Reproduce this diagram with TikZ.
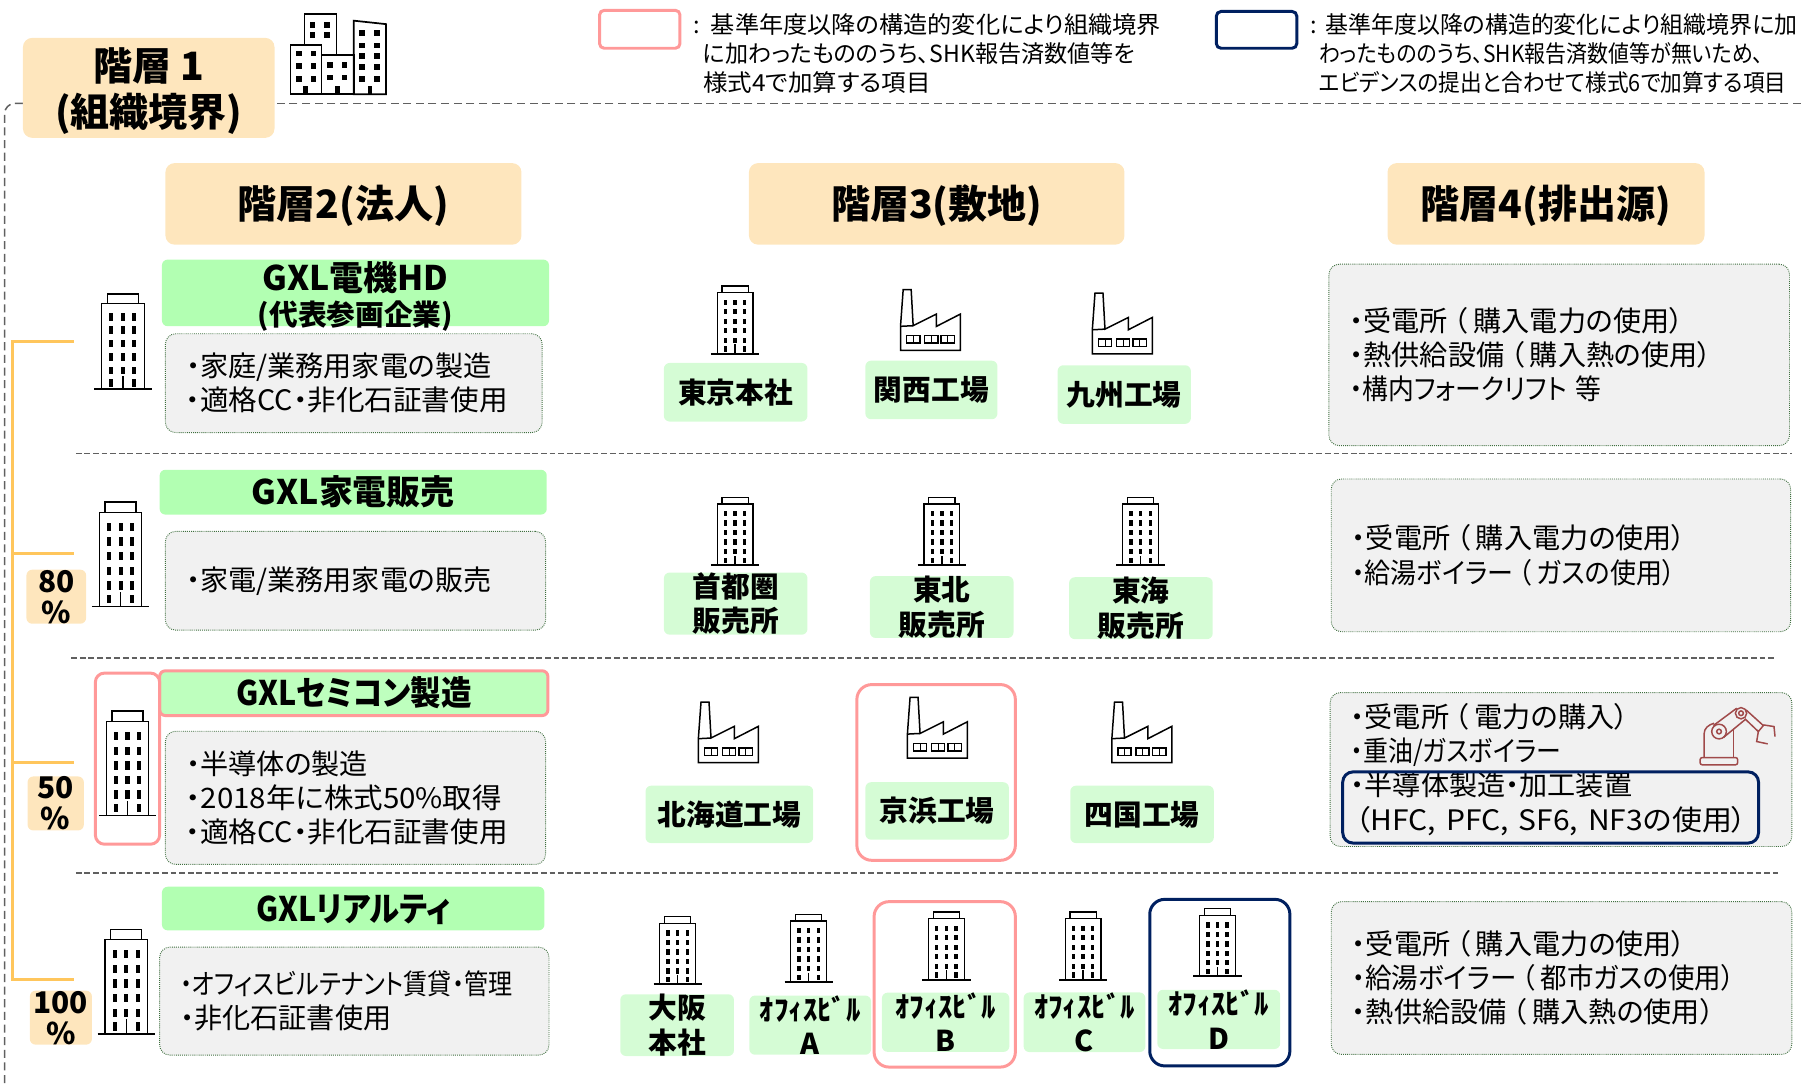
\documentclass[tikz,border=0pt]{standalone}
\usepackage{fontspec}
\setmainfont{Noto Sans CJK JP}[RawFeature=+palt]
\usepackage{graphicx}
\usepackage{xcolor}
\usepackage{tikz}
\usetikzlibrary{positioning}

\definecolor{peach}{HTML}{FEE6BD}
\definecolor{firmgreen}{HTML}{B2FFB2}
\definecolor{sitegreen}{HTML}{D5FCD5}
\definecolor{notegray}{HTML}{F1F1F1}
\definecolor{notegreen}{HTML}{3F6F3F}
\definecolor{addpink}{HTML}{FF9999}
\definecolor{addnavy}{HTML}{002060}
\definecolor{treeorange}{HTML}{FFC65C}
\definecolor{rulegray}{HTML}{606060}
\definecolor{robotred}{HTML}{A04A4A}

\newcommand{\fitline}[2]{\resizebox{#1}{\height}{#2}}
\newcommand{\kakko}[1]{\hspace{5pt}（\hspace{5pt}#1）\hspace{5pt}}

\tikzset{
	levelbox/.style={fill=peach, rounded corners=8pt, inner sep=0pt, align=center, text height=30pt, text depth=4pt, font=\fontsize{34}{40}\selectfont\bfseries},
	leveltext/.style={inner sep=0pt, align=center, font=\fontsize{34}{40}\selectfont\bfseries},
	firmbox/.style={fill=firmgreen, rounded corners=5pt, inner sep=0pt, align=center, text height=24pt, text depth=2pt, font=\fontsize{29.5}{32}\selectfont\bfseries},
	firmtext/.style={inner sep=0pt, align=center, font=\fontsize{29.5}{30}\selectfont\bfseries},
	sitetag/.style={fill=sitegreen, rounded corners=5pt, inner sep=0pt, align=center, font=\fontsize{25}{30}\selectfont\bfseries},
	pctag/.style={fill=peach, rounded corners=5pt, inner sep=0pt, align=center, minimum width=52pt, minimum height=47pt, font=\fontsize{26}{27}\selectfont\bfseries},
	notebox/.style={fill=notegray, draw=notegreen, densely dotted, line width=0.8pt, rounded corners=9pt, inner xsep=18pt, inner ysep=0pt, align=left, font=\fontsize{24.5}{29.7}\selectfont},
	pinkframe/.style={draw=addpink, line width=2.6pt, rounded corners=13pt, inner sep=0pt},
	navyframe/.style={draw=addnavy, line width=2.6pt, rounded corners=13pt, inner sep=0pt},
	legendtext/.style={inner sep=0pt, align=left, font=\fontsize{20.5}{25.5}\selectfont},
	rowrule/.style={draw=rulegray, line width=1.2pt, dash pattern=on 5pt off 2.5pt},
	framerule/.style={draw=rulegray, line width=1.3pt, dash pattern=on 7pt off 4pt},
	treeline/.style={draw=treeorange, line width=2.8pt},
	bigtower/.style={xscale=.5, yscale=.83},
	tallertower/.style={xscale=.5, yscale=.91},
	sitetower/.style={xscale=.42, yscale=.59},
	pics/tower/.style={code={
		\draw[line width=1.6pt] (-50,0) -- (50,0);
		\draw[line width=1.1pt] (-37,0) -- (-37,-90) -- (37,-90) -- (37,0);
		\draw[line width=1.1pt] (-27,-90) -- (-27,-100) -- (27,-100) -- (27,-90);
		\draw[line width=1.3pt] (0,0) -- (0,-14);
		\foreach \c in {-20,0,20}
			\foreach \r in {-80,-66,-52,-38,-24}
				\fill (\c-3.5,\r) rectangle (\c+3.5,\r+8);
		\fill (-23.5,-11) rectangle (-16.5,-3);
		\fill (16.5,-11) rectangle (23.5,-3);
	}},
	pics/factory/.style={code={
		\draw[line width=1.3pt] (0,0) -- (0,-72) -- (8,-182) -- (32,-182) -- (38,-74) -- (108,-109) -- (108,-72) -- (180,-109) -- (180,0) -- cycle;
		\draw[line width=1.3pt] (0,-72) -- (38,-74);
		\foreach \w in {18,72,122}{
			\draw[line width=1.3pt] (\w,-44) rectangle (\w+40,-22);
			\draw[line width=.8pt] (\w+20,-44) -- (\w+20,-22);
		}
	}},
	pics/robot/.style={code={
		\begin{scope}[draw=robotred, line width=1.3pt]
			\draw[rounded corners=2pt] (30,210) rectangle (143,188);
			\draw (42,188) -- (42,118) .. controls (42,100) and (55,90) .. (72,85);
			\draw (130,188) -- (130,105);
			\draw (70,92) -- (140,40);
			\draw (100,128) -- (168,72);
			\draw (87,110) circle (22);
			\draw (87,110) circle (7);
			\draw (153,55) circle (17);
			\draw (153,55) circle (7);
			\draw (168,45) -- (220,92) -- (205,110) -- (165,72);
			\draw (220,90) -- (252,95) -- (255,125);
			\draw (205,110) -- (200,140) -- (233,147);
		\end{scope}
	}},
}

\begin{document}
\begin{tikzpicture}[x=1pt, y=-1pt]
	\useasboundingbox (0,0) rectangle (1568,945.5);

	% outer boundary and row rules
	\draw[framerule] (1568,90) -- (20,90);
	\draw[framerule, rounded corners=9pt] (20,90) -- (4,90) -- (4,945);
	\draw[rowrule] (66,395) -- (1560,395);
	\draw[rowrule] (62,573) -- (1545,573);
	\draw[rowrule] (66,760) -- (1548,760);

	% ownership tree
	\coordinate (trunk) at (11,297);
	\coordinate (own1) at (64,297);
	\coordinate (own2) at (64,482);
	\coordinate (own3) at (64,664);
	\coordinate (own4) at (64,853);
	\draw[treeline] (own1) -- (trunk) -- (trunk |- own4) -- (own4);
	\draw[treeline] (own2) -- (trunk |- own2);
	\draw[treeline] (own3) -- (trunk |- own3);

	% headers
	\node[fill=peach, rounded corners=8pt, inner sep=0pt, minimum width=219pt, minimum height=87pt](lvl1) at (129.5,76.5){};
	\node[leveltext](lvl1text) at (129.5,79.5){階層 1\\(組織境界)};
	\node[levelbox, minimum width=310pt, minimum height=71pt](lvl2) at (299,177.5){階層2(法人)};
	\node[levelbox, minimum width=327pt, minimum height=71pt](lvl3) at (815.5,177.5){階層3(敷地)};
	\node[levelbox, minimum width=276pt, minimum height=71pt](lvl4) at (1346,177.5){階層4(排出源)};

	% city icon
	\begin{scope}[line width=1.5pt]
		\draw (265,39) -- (265,12) -- (293,12) -- (293,48);
		\draw (253,82) rectangle (280,39);
		\draw (280,82) rectangle (308,48);
		\draw (308,82) -- (308,18) -- (336,21) -- (336,82) -- cycle;
		\foreach \c/\r in {272/19,285/19,272/28,285/28,
			260/44,273/44,260/55,273/55,260/66,273/66,
			287/54,300/54,287/65,300/65,
			315/26,328/26,315/37,328/37,315/46,328/46,315/56,328/56,315/66,328/66}
			\fill (\c-2.5,\r) rectangle (\c+2.5,\r+5);
		\foreach \c in {266,294,322}
			\fill (\c-2,82) rectangle (\c+2,75);
	\end{scope}

	% legend
	\node[pinkframe, rounded corners=4pt, minimum width=70pt, minimum height=33pt](keypink) at (557,25.5){};
	\node[navyframe, rounded corners=4pt, minimum width=70pt, minimum height=32pt](keynavy) at (1094,26){};
	\node[legendtext, anchor=west](txtpink) at (604,46.5){:\hspace{9pt}\fitline{392pt}{基準年度以降の構造的変化により組織境界}\\\hspace*{8pt}\fitline{376pt}{に加わったもののうち、SHK報告済数値等を}\\\hspace*{8pt}\fitline{198pt}{様式4で加算する項目}};
	\node[legendtext, anchor=west](txtnavy) at (1141,46.5){:\hspace{7pt}\fitline{411pt}{基準年度以降の構造的変化により組織境界に加}\\\hspace*{7pt}\fitline{387pt}{わったもののうち、SHK報告済数値等が無いため、}\\\hspace*{7pt}\fitline{407pt}{エビデンスの提出と合わせて様式6で加算する項目}};

	% firms
	\node[fill=firmgreen, rounded corners=5pt, inner sep=0pt, minimum width=337pt, minimum height=58pt](hd) at (309.5,255){};
	\node[firmtext](hdtext) at (309.5,258){GXL電機HD\\{\fontsize{25}{30}\selectfont (代表参画企業)}};
	\node[notebox, below=6pt of hd, xshift=-1.5pt, text width=292pt, minimum height=86pt](hdnote){・家庭/業務用家電の製造\\\fitline{280pt}{・適格CC・非化石証書使用}};
	\node[firmbox, minimum width=337pt, minimum height=39pt](kaden) at (307.5,428.5){GXL家電販売};
	\node[notebox, below=14pt of kaden, xshift=2pt, text width=295pt, minimum height=86pt](kadennote){・家電/業務用家電の販売};
	\node[firmbox, fill=firmgreen!85!white, minimum width=338pt, minimum height=39pt](semi) at (308,603.5){\fitline{205pt}{GXLセミコン製造}};
	\node[notebox, below=13pt of semi, xshift=1.5pt, text width=295pt, minimum height=116pt](seminote){・半導体の製造\\\fitline{275pt}{・2018年に株式50\%取得}\\\fitline{280pt}{・適格CC・非化石証書使用}};
	\node[firmbox, minimum width=333pt, minimum height=38pt](realty) at (307.5,791){\fitline{169pt}{GXLリアルティ}};
	\node[notebox, below=14pt of realty, xshift=1pt, text width=303pt, minimum height=94pt](realtynote){\fitline{289pt}{・オフィスビルテナント賃貸・管理}\\・非化石証書使用};
	\node[pinkframe, rounded corners=5pt, minimum width=338pt, minimum height=39pt](semiframe) at (semi){};

	% stakes
	\node[pctag](pct80) at (49,519.5){80\\\%};
	\node[pctag, minimum width=49pt](pct50) at (48.5,699.5){50\\\%};
	\node[pctag, minimum width=54pt](pct100) at (53,886){100\\\%};

	% firm towers
	\pic[bigtower] at (107,339){tower};
	\pic[tallertower] at (105,528){tower};
	\pic[tallertower] at (111,710){tower};
	\pic[tallertower] at (110,900){tower};
	\node[pinkframe, rounded corners=8pt, minimum width=56pt, minimum height=149pt](semibldg) at (111,660.5){};

	% sites
	\node[sitetag, minimum width=125pt, minimum height=51pt](tokyo) at (640.5,341.5){東京本社};
	\node[sitetag, right=50pt of tokyo, yshift=2pt, minimum width=115pt, minimum height=51pt](kansai){関西工場};
	\node[sitetag, right=52pt of kansai, yshift=-4pt, minimum width=116pt, minimum height=51pt](kyushu){九州工場};

	\node[sitetag, minimum width=125pt, minimum height=51pt](shuto) at (640.5,525.5){首都圏\\販売所};
	\node[sitetag, right=54pt of shuto, yshift=-3pt, minimum width=125pt, minimum height=51pt](tohoku){東北\\販売所};
	\node[sitetag, right=48pt of tohoku, yshift=-1pt, minimum width=125pt, minimum height=51pt](tokai){東海\\販売所};

	\node[sitetag, minimum width=146pt, minimum height=50pt](hokkai) at (635,709){北海道工場};
	\node[sitetag, right=45pt of hokkai, yshift=3pt, minimum width=125pt, minimum height=50pt](keihin){京浜工場};
	\node[sitetag, right=53pt of keihin, yshift=-3pt, minimum width=125pt, minimum height=50pt](shikoku){四国工場};

	\node[sitetag, minimum width=99pt, minimum height=51pt](osaka) at (589.5,892.5){大阪\\本社};
	\node[sitetag, right=13pt of osaka, minimum width=106pt, minimum height=51pt](ofa){ｵﾌｨｽﾋﾞﾙ\\A};
	\node[sitetag, right=9pt of ofa, yshift=2.5pt, minimum width=111pt, minimum height=50pt](ofb){ｵﾌｨｽﾋﾞﾙ\\B};
	\node[sitetag, right=12pt of ofb, minimum width=106pt, minimum height=50pt](ofc){ｵﾌｨｽﾋﾞﾙ\\C};
	\node[sitetag, right=10pt of ofc, yshift=2.5pt, minimum width=107pt, minimum height=51pt](ofd){ｵﾌｨｽﾋﾞﾙ\\D};

	\node[pinkframe, minimum width=138pt, minimum height=153pt](keihinframe) at (815,672.5){};
	\node[pinkframe, minimum width=123pt, minimum height=144pt](ofbframe) at (822.5,857){};
	\node[navyframe, minimum width=122pt, minimum height=145pt](ofdframe) at (1062,855.5){};

	% site icons
	\pic[sitetower] at (640,308){tower};
	\pic[scale=.29] at (784,305){factory};
	\pic[scale=.29] at (951,308){factory};
	\pic[sitetower] at (640,492){tower};
	\pic[sitetower] at (820,492){tower};
	\pic[sitetower] at (993,492){tower};
	\pic[scale=.29] at (608,664){factory};
	\pic[scale=.29] at (790,660){factory};
	\pic[scale=.29] at (968,664){factory};
	\pic[sitetower] at (590,857){tower};
	\pic[sitetower] at (704,855){tower};
	\pic[sitetower] at (824,853){tower};
	\pic[sitetower] at (943,853){tower};
	\pic[sitetower] at (1060,850){tower};

	% emission sources
	\node[notebox, text width=365pt, minimum height=158pt](src1) at (1357.5,309){・受電所\kakko{購入電力の使用}\\・熱供給設備\kakko{購入熱の使用}\\\fitline{219pt}{・構内フォークリフト\hspace{8pt}等}};
	\node[notebox, text width=364pt, minimum height=133pt](src2) at (1359,483.5){・受電所\kakko{購入電力の使用}\\\fitline{286pt}{・給湯ボイラー\kakko{ガスの使用}}};
	\node[notebox, text width=366pt, minimum height=134pt](src3) at (1359,670){・受電所\kakko{電力の購入}\\\fitline{183pt}{・重油/ガスボイラー}\\・半導体製造・加工装置\\\fitline{345pt}{\hspace{4pt}（HFC, PFC, SF6, NF3の使用）}};
	\node[notebox, text width=365pt, minimum height=133pt](src4) at (1359.5,851.5){・受電所\kakko{購入電力の使用}\\\fitline{338pt}{・給湯ボイラー\kakko{都市ガスの使用}}\\・熱供給設備\kakko{購入熱の使用}};
	\node[navyframe, rounded corners=9pt, minimum width=362pt, minimum height=62pt](srcframe) at (1350,703){};
	\pic[scale=.29] at (1471.4,605){robot};

\end{tikzpicture}
\end{document}
